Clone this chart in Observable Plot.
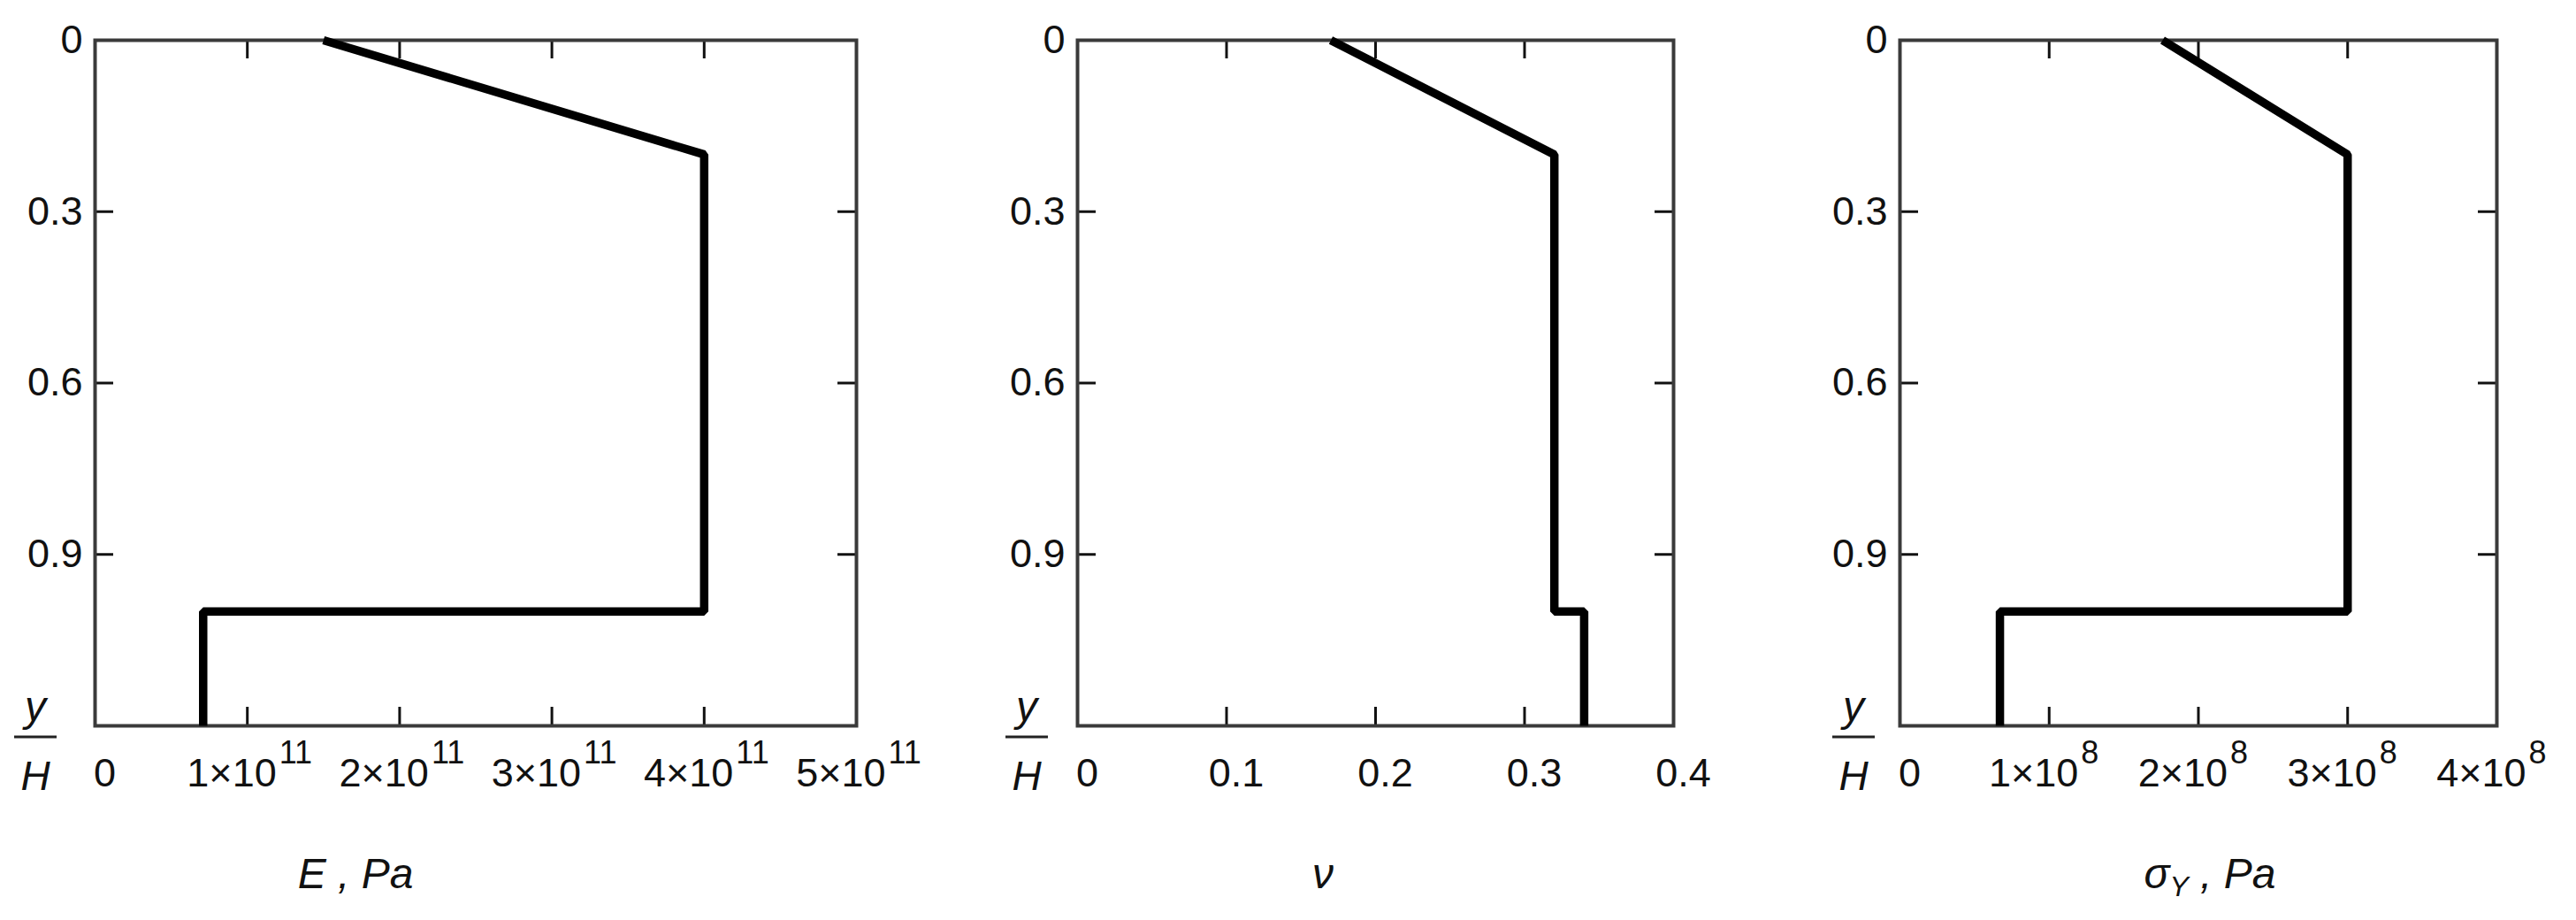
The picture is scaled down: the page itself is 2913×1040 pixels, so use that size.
<!DOCTYPE html>
<html><head><meta charset="utf-8">
<script src="https://cdn.jsdelivr.net/npm/d3@7"></script>
<script src="https://cdn.jsdelivr.net/npm/@observablehq/plot@0.6"></script>
<style>
html,body{margin:0;padding:0;background:#fff;}
#wrap{display:flex;width:2913px;height:1040px;overflow:hidden;}
#wrap svg{flex:none;}
</style></head><body><div id="wrap"></div>
<script>
// ---- data ----
const depth = [0, 0.2, 1.0, 1.0, 1.2];            // y/H
const youngE = [1.5e11, 4e11, 4e11, 0.71e11, 0.71e11];   // E, Pa
const poisson = [0.17, 0.32, 0.32, 0.34, 0.34];          // nu
const yieldS = [1.76e8, 3e8, 3e8, 0.67e8, 0.67e8];       // sigma_Y, Pa

const yTicks = [0, 0.3, 0.6, 0.9];
const yTickLabels = ["0", "0.3", "0.6", "0.9"];
const yTickMarks = [0.3, 0.6, 0.9];

const eTicks = [0, 1e11, 2e11, 3e11, 4e11, 5e11];
const eMant = ["0", "1×10", "2×10", "3×10", "4×10", "5×10"];
const eExp = ["", "11", "11", "11", "11", "11"];

const nuTicks = [0, 0.1, 0.2, 0.3, 0.4];
const nuMant = ["0", "0.1", "0.2", "0.3", "0.4"];
const nuExp = ["", "", "", "", ""];

const sTicks = [0, 1e8, 2e8, 3e8, 4e8];
const sMant = ["0", "1×10", "2×10", "3×10", "4×10"];
const sExp = ["", "8", "8", "8", "8"];

const H = 1040, MT = 45, MB = 220;
const FONT = "'Liberation Sans', Arial, sans-serif";

const panels = [
  {w: 1060, ml: 107, mr: 92, dom: [0, 5e11], vals: youngE, ticks: eTicks, mant: eMant, exp: eExp,
   title: [["E", {}], [" , Pa", {}]], tx: 402, yh: 40},
  {w: 950, ml: 158, mr: 118, dom: [0, 0.4], vals: poisson, ticks: nuTicks, mant: nuMant, exp: nuExp,
   title: [["ν", {}]], tx: 436, yh: 101},
  {w: 903, ml: 138, mr: 90, dom: [0, 4e8], vals: yieldS, ticks: sTicks, mant: sMant, exp: sExp,
   title: [["σ", {}], ["Y", {size: 32, dy: 9}], [" , Pa", {dy: -9}]], tx: 489, yh: 86}
];

const wrap = document.getElementById("wrap");
const idx = depth.map((_, i) => i);

for (const p of panels) {
  const pw = p.w - p.ml - p.mr;
  const ph = H - MT - MB;
  const TL = 21;
  const ti = p.ticks.map((_, i) => i);
  const svg = Plot.plot({
    width: p.w, height: H,
    marginLeft: p.ml, marginRight: p.mr, marginTop: MT, marginBottom: MB,
    style: {fontFamily: FONT, fontSize: "45px", background: "white", overflow: "visible"},
    x: {domain: p.dom, axis: null},
    y: {domain: [0, 1.2], reverse: true, axis: null},
    marks: [
      // inward ticks: bottom, top
      Plot.tickX(p.ticks, {x: d => d, insetTop: ph - TL, stroke: "#111", strokeWidth: 3}),
      Plot.tickX(p.ticks, {x: d => d, insetBottom: ph - TL, stroke: "#111", strokeWidth: 3}),
      // inward ticks: left, right
      Plot.tickY(yTickMarks.concat([0]), {y: d => d, insetRight: pw - TL, stroke: "#111", strokeWidth: 3}),
      Plot.tickY(yTickMarks.concat([0]), {y: d => d, insetLeft: pw - TL, stroke: "#111", strokeWidth: 3}),
      Plot.frame({stroke: "#3a3a3a", strokeWidth: 4}),
      Plot.line(idx, {x: i => p.vals[i], y: i => depth[i], stroke: "#000", strokeWidth: 9.5,
        strokeLinejoin: "miter", strokeLinecap: "butt"}),
      // y tick labels
      Plot.text(yTicks, {y: d => d, text: (d, i) => yTickLabels[i], frameAnchor: "left",
        textAnchor: "end", dx: -14, fill: "#111", fontSize: 45}),
      // x tick labels without exponent
      Plot.text(ti.filter(i => p.exp[i] === ""), {x: i => p.ticks[i], text: i => p.mant[i],
        frameAnchor: "bottom", textAnchor: "middle", dx: 11, dy: 68, fill: "#111", fontSize: 45}),
      // x tick labels with exponent: mantissa
      Plot.text(ti.filter(i => p.exp[i] !== ""), {x: i => p.ticks[i], text: i => p.mant[i],
        frameAnchor: "bottom", textAnchor: "end", dx: 33, dy: 68, fill: "#111", fontSize: 45}),
      // exponent
      Plot.text(ti.filter(i => p.exp[i] !== ""), {x: i => p.ticks[i], text: i => p.exp[i],
        frameAnchor: "bottom", textAnchor: "start", dx: 36, dy: 42, fill: "#111", fontSize: 36})
    ]
  });
  const s = d3.select(svg);
  // y/H fraction label
  const g = s.append("g").attr("font-family", FONT).attr("font-style", "italic").attr("fill", "#111");
  g.append("text").attr("x", p.yh).attr("y", 815).attr("text-anchor", "middle").attr("font-size", 48).text("y");
  g.append("line").attr("x1", p.yh - 24).attr("x2", p.yh + 24).attr("y1", 833).attr("y2", 833)
    .attr("stroke", "#222").attr("stroke-width", 3);
  g.append("text").attr("x", p.yh).attr("y", 893).attr("text-anchor", "middle").attr("font-size", 46).text("H");
  // axis title
  const t = s.append("text").attr("x", p.tx).attr("y", 1004).attr("text-anchor", "middle")
    .attr("font-family", FONT).attr("font-style", "italic").attr("font-size", 48).attr("fill", "#111");
  for (const [str, o] of p.title) {
    const ts = t.append("tspan").text(str);
    if (o.size) ts.attr("font-size", o.size);
    if (o.dy) ts.attr("dy", o.dy);
  }
  wrap.appendChild(svg);
}
</script></body></html>
